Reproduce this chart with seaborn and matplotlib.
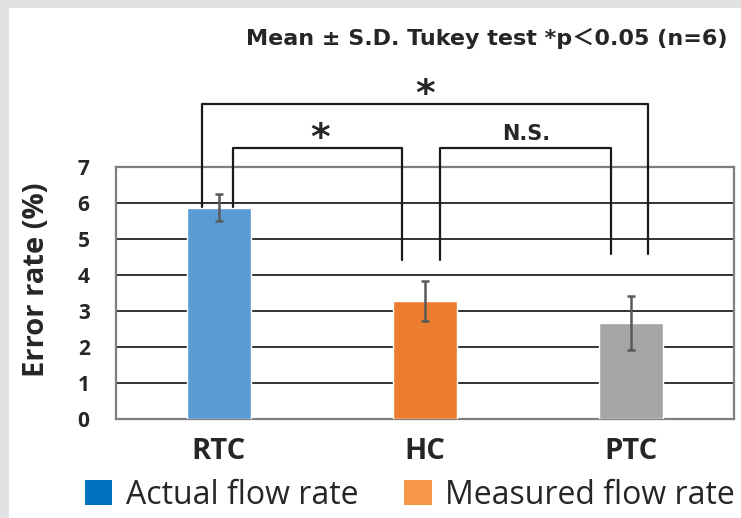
import matplotlib
matplotlib.use("Agg")
import matplotlib.pyplot as plt
import matplotlib.patches as mpatches
import seaborn as sns
import pandas as pd

categories = ["RTC", "HC", "PTC"]
means = [5.86, 3.28, 2.67]
sds = [0.38, 0.55, 0.75]
bar_colors = ["#5B9BD5", "#ED7D31", "#A5A5A5"]
legend_labels = ["Actual flow rate", "Measured flow rate"]
legend_colors = ["#0070C0", "#F79646"]
y_ticks = [0, 1, 2, 3, 4, 5, 6, 7]
title_text = "Mean \u00b1 S.D. Tukey test *p\uff1c0.05 (n=6)"

sns.set_theme(style="white")
plt.rcParams["font.family"] = ["Open Sans", "DejaVu Sans", "Noto Sans CJK JP"]

fig = plt.figure(figsize=(7.41, 5.18), dpi=100)
fig.patch.set_facecolor("#e2e2e2")
fig.patches.append(mpatches.Rectangle((9 / 741, 0), 1, 1 - 8 / 518, transform=fig.transFigure,
                                      facecolor="white", edgecolor="none", zorder=-10))

ax = fig.add_axes([116 / 741, 99 / 518, 618 / 741, 252.3 / 518])
df = pd.DataFrame({"cat": categories, "val": means})
sns.barplot(data=df, x="cat", y="val", hue="cat", palette=bar_colors, legend=False,
            errorbar=None, width=0.31, ax=ax, zorder=3, saturation=1)
ax.errorbar(x=range(len(categories)), y=means, yerr=sds, fmt="none", ecolor="#595959",
            elinewidth=1.8, capsize=3, capthick=1.8, zorder=4)

ax.set_ylim(0, 7)
ax.set_xlim(-0.5, 2.5)
ax.set_yticks(y_ticks)
ax.set_yticklabels([str(t) for t in y_ticks], fontsize=15, fontweight="bold")
ax.tick_params(axis="y", length=0, pad=19)
ax.tick_params(axis="x", length=0, pad=13)
ax.set_xticks(range(len(categories)))
ax.set_xticklabels(categories, fontsize=21, fontweight="bold")
ax.set_xlabel("")
ax.set_ylabel("Error rate (%)", fontsize=21, fontweight="bold")
ax.yaxis.set_label_coords(-0.105, 0.551)
ax.grid(axis="y", color="#333333", linewidth=1.4, zorder=0)
ax.set_axisbelow(True)
for s in ax.spines.values():
    s.set_visible(True)
    s.set_color("#7f7f7f")
    s.set_linewidth(1.6)

# significance brackets
lc = "#1a1a1a"
lw = 1.6
def bracket(x0, x1, y, yb0, yb1):
    ax.plot([x0, x0, x1, x1], [yb0, y, y, yb1], color=lc, lw=lw, clip_on=False, zorder=5)

bracket(-0.084, 2.084, 8.75, 5.88, 4.57)
bracket(0.069, 0.89, 7.52, 5.88, 4.40)
bracket(1.075, 1.905, 7.52, 4.40, 4.57)
ax.text(1.0, 8.98, "*", ha="center", va="center", fontsize=27, fontweight="bold",
        family="DejaVu Sans", clip_on=False)
ax.text(0.49, 7.76, "*", ha="center", va="center", fontsize=27, fontweight="bold",
        family="DejaVu Sans", clip_on=False)
ax.text(1.49, 7.9, "N.S.", ha="center", va="center", fontsize=15, fontweight="bold",
        family="DejaVu Sans", clip_on=False)
fig.text(728 / 741, 1 - 38 / 518, title_text, ha="right", va="center", fontsize=16,
         fontweight="bold", family=["DejaVu Sans", "Noto Sans CJK JP"])

handles = [mpatches.Patch(facecolor=c, edgecolor="none", label=l)
           for c, l in zip(legend_colors, legend_labels)]
fig.legend(handles=handles, loc="center left", bbox_to_anchor=(85 / 741, 1 - 495 / 518), ncol=2,
           frameon=False, fontsize=23, handlelength=0.85, handleheight=0.85,
           handletextpad=0.42, columnspacing=1.45, borderaxespad=0, borderpad=0)

fig.savefig("out.png", dpi=100, facecolor=fig.get_facecolor())
